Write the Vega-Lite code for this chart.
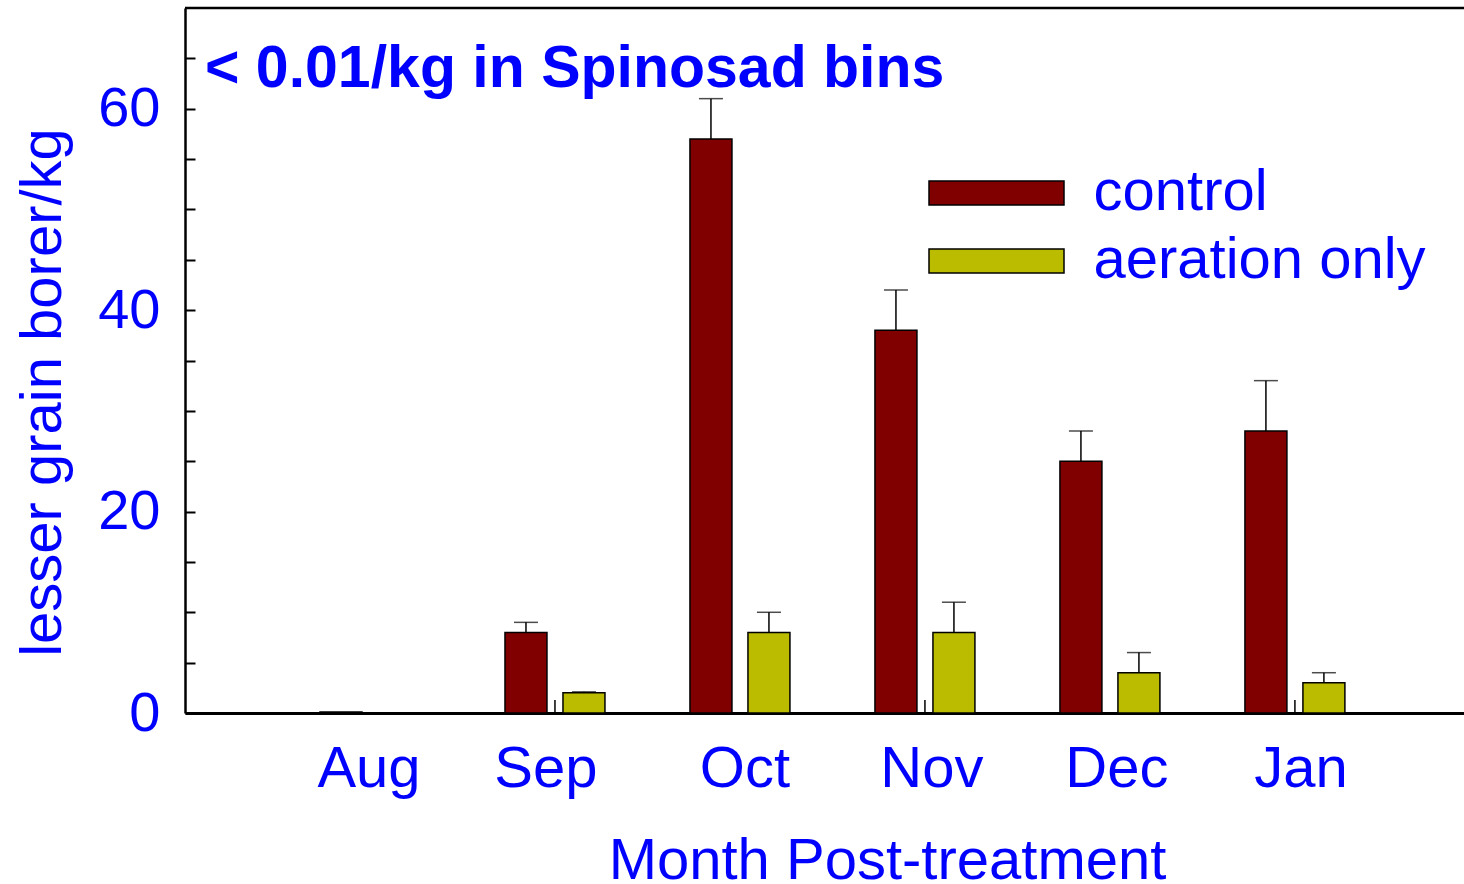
{
  "$schema": "https://vega.github.io/schema/vega-lite/v6.json",
  "width": 1279,
  "height": 705,
  "autosize": "none",
  "padding": {"left": 185, "top": 8, "right": 0, "bottom": 171},
  "background": "white",
  "config": {
    "view": {"stroke": null},
    "font": "Liberation Sans",
    "text": {"font": "Liberation Sans"}
  },
  "title": {
    "text": "< 0.01/kg in Spinosad bins",
    "anchor": "start",
    "frame": "group",
    "orient": "top",
    "offset": 0,
    "baseline": "alphabetic",
    "dy": 139,
    "dx": 20,
    "fontSize": 59,
    "fontWeight": "bold",
    "color": "#0000FF",
    "font": "Liberation Sans"
  },
  "data": {
    "values": [
      {"month": "Aug", "group": "control", "mean": 0.1, "upper": 0.1},
      {"month": "Aug", "group": "aeration only", "mean": 0, "upper": 0},
      {"month": "Sep", "group": "control", "mean": 8, "upper": 9},
      {"month": "Sep", "group": "aeration only", "mean": 2, "upper": 2.1},
      {"month": "Oct", "group": "control", "mean": 57, "upper": 61},
      {"month": "Oct", "group": "aeration only", "mean": 8, "upper": 10},
      {"month": "Nov", "group": "control", "mean": 38, "upper": 42},
      {"month": "Nov", "group": "aeration only", "mean": 8, "upper": 11},
      {"month": "Dec", "group": "control", "mean": 25, "upper": 28},
      {"month": "Dec", "group": "aeration only", "mean": 4, "upper": 6},
      {"month": "Jan", "group": "control", "mean": 28, "upper": 33},
      {"month": "Jan", "group": "aeration only", "mean": 3, "upper": 4}
    ]
  },
  "encoding": {
    "x": {
      "field": "month",
      "type": "nominal",
      "sort": ["Aug", "Sep", "Oct", "Nov", "Dec", "Jan"],
      "scale": {"paddingInner": 0, "paddingOuter": 0.457, "align": 0.547},
      "axis": {
        "title": "Month Post-treatment",
        "ticks": false,
        "labelAngle": 0,
        "labelFontSize": 58,
        "labelColor": "#0000FF",
        "labelFont": "Liberation Sans",
        "labelBaseline": "alphabetic",
        "labelPadding": 73,
        "labelOffset": {
          "condition": [
            {"test": "datum.value === 'Aug'", "value": -1},
            {"test": "datum.value === 'Sep'", "value": -9},
            {"test": "datum.value === 'Oct'", "value": 5},
            {"test": "datum.value === 'Jan'", "value": 6}
          ],
          "value": 7
        },
        "domainColor": "black",
        "domainWidth": 3,
        "titleFontSize": 58,
        "titleFontWeight": "normal",
        "titleColor": "#0000FF",
        "titleFont": "Liberation Sans",
        "titleBaseline": "alphabetic",
        "titleX": 702,
        "titleY": 165
      }
    },
    "xOffset": {
      "field": "group",
      "type": "nominal",
      "sort": ["control", "aeration only"],
      "scale": {"paddingInner": 0.276, "paddingOuter": 0.733}
    }
  },
  "layer": [
    {
      "mark": {"type": "bar", "stroke": "black", "strokeWidth": 1.5},
      "encoding": {
        "y": {
          "field": "mean",
          "type": "quantitative",
          "scale": {"domain": [0, 70], "nice": false},
          "axis": {
            "title": "lesser grain borer/kg",
            "values": [0, 5, 10, 15, 20, 25, 30, 35, 40, 45, 50, 55, 60, 65],
            "labelExpr": "datum.value % 20 === 0 ? datum.label : ''",
            "grid": false,
            "tickSize": -10,
            "tickWidth": 2,
            "tickColor": "black",
            "domainColor": "black",
            "domainWidth": 2.5,
            "labelPadding": 35,
            "labelFontSize": 56,
            "labelColor": "#0000FF",
            "labelFont": "Liberation Sans",
            "titleFontSize": 58,
            "titleFontWeight": "normal",
            "titleColor": "#0000FF",
            "titleFont": "Liberation Sans",
            "titleBaseline": "alphabetic",
            "titleAlign": "center",
            "titleX": -125,
            "titleY": 384
          }
        },
        "color": {
          "field": "group",
          "type": "nominal",
          "sort": ["control", "aeration only"],
          "scale": {"domain": ["control", "aeration only"], "range": ["#800000", "#BBBB00"]},
          "legend": {
            "title": null,
            "orient": "none",
            "legendX": 782.5,
            "legendY": 156,
            "symbolType": "M-4.5,-0.8H4.5V0.8H-4.5Z",
            "symbolSize": 900,
            "symbolStrokeColor": "black",
            "symbolStrokeWidth": 1.5,
            "symbolOpacity": 1,
            "labelFontSize": 58,
            "labelColor": "#0000FF",
            "labelFont": "Liberation Sans",
            "labelOffset": 68,
            "rowPadding": 10,
            "labelLimit": 600
          }
        }
      }
    },
    {
      "mark": {"type": "rule", "color": "black", "strokeWidth": 1.5},
      "encoding": {
        "y": {"field": "mean", "type": "quantitative"},
        "y2": {"field": "upper"}
      }
    },
    {
      "mark": {"type": "tick", "color": "black", "thickness": 1.5, "size": 24, "orient": "horizontal"},
      "transform": [{"filter": "datum.upper > datum.mean"}],
      "encoding": {
        "y": {"field": "upper", "type": "quantitative"}
      }
    },
    {
      "data": {"values": [{"month": "Sep"}, {"month": "Nov"}, {"month": "Jan"}]},
      "mark": {"type": "rule", "color": "black", "strokeWidth": 1.5},
      "encoding": {
        "xOffset": null,
        "y": {"datum": 0},
        "y2": {"datum": 1.3}
      }
    },
    {
      "data": {"values": [{"edge": "top"}]},
      "mark": {"type": "rule", "color": "black", "strokeWidth": 2.5},
      "encoding": {
        "x": null,
        "xOffset": null,
        "y": {"datum": 70}
      }
    }
  ]
}
